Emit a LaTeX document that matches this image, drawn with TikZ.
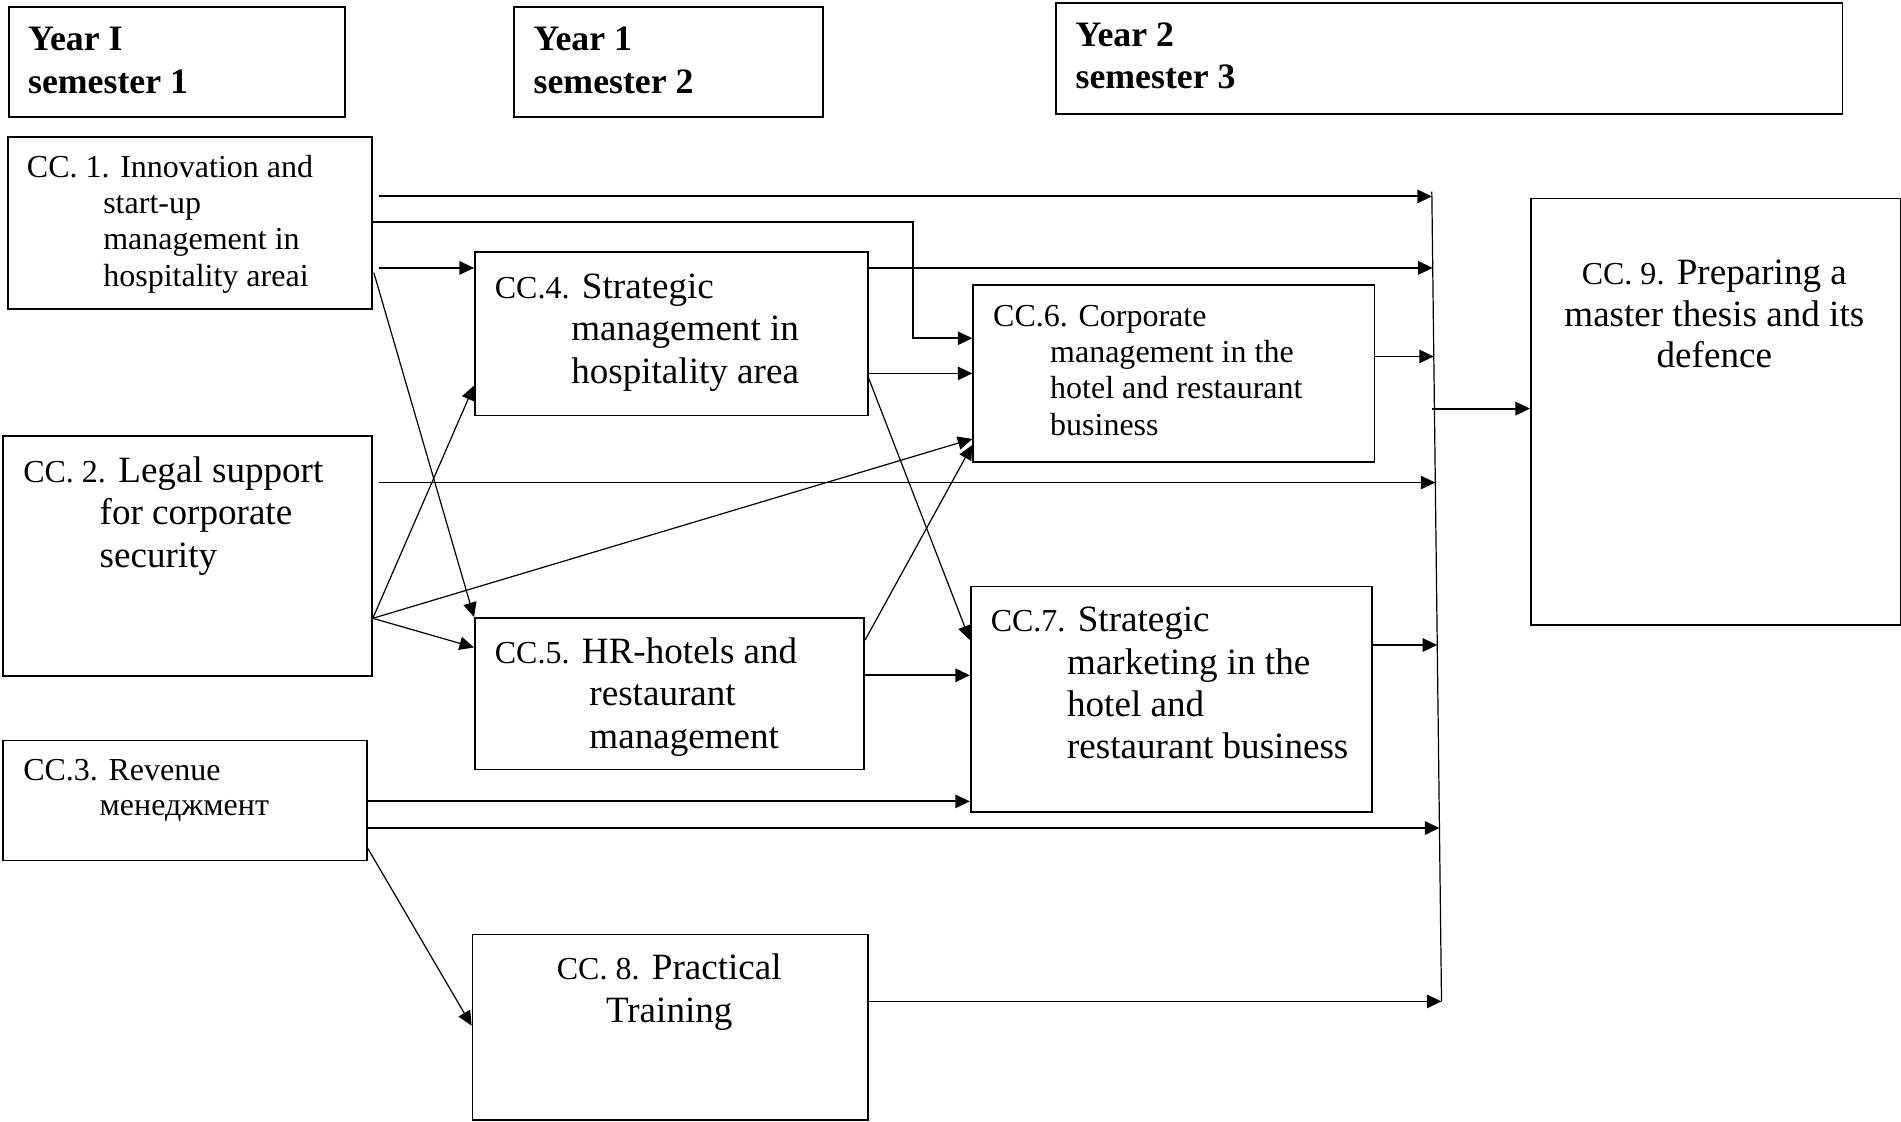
\documentclass[tikz,border=0pt]{standalone}
\usepackage{fontspec}
\setmainfont{Liberation Serif}
\usetikzlibrary{arrows.meta,calc}
\newcommand\smcc{\fontsize{26.4}{30}\selectfont}
\begin{document}
\begin{tikzpicture}[x=1pt,y=-1pt,
  box/.style={draw, line width=1.5pt, inner sep=0pt, anchor=north west},
  sm/.style={inner sep=0pt, font=\fontsize{26.4}{30}\selectfont},
  lg/.style={inner sep=0pt, font=\fontsize{30.6}{35}\selectfont},
  hd/.style={inner sep=0pt, font=\fontsize{29.5}{35}\selectfont\bfseries},
  arr/.style={draw, line width=1.5pt, -{Triangle[length=12pt,width=11pt]}},
  darr/.style={draw, line width=1pt, -{Triangle[length=12pt,width=11pt]}}]
\useasboundingbox (0,0) rectangle (1568,925);
\fill[white] (0,0) rectangle (1568,925);
% header boxes
\node[box, minimum width=277pt, minimum height=91pt] (h1) at (7,5) {};
\node[box, minimum width=255pt, minimum height=91pt] (h2) at (423,5) {};
\node[box, minimum width=649pt, minimum height=91pt] (h3) at (870,2) {};
\node[hd, anchor=base west] (h1a) at (23,42) {Year I};
\node[hd, anchor=base west] (h1b) at (23,77) {semester 1};
\node[hd, anchor=base west] (h2a) at (440,42) {Year 1};
\node[hd, anchor=base west] (h2b) at (440,77) {semester 2};
\node[hd, anchor=base west] (h3a) at (887,38) {Year 2};
\node[hd, anchor=base west] (h3b) at (887,73) {semester 3};
% course boxes
\node[box, minimum width=300pt, minimum height=142pt] (cc1) at (6,112) {};
\node[box, minimum width=304pt, minimum height=198pt] (cc2) at (2,359) {};
\node[box, minimum width=300pt, minimum height=99pt] (cc3) at (2,610) {};
\node[box, minimum width=324pt, minimum height=135pt] (cc4) at (391,207) {};
\node[box, minimum width=321pt, minimum height=125pt] (cc5) at (391,509) {};
\node[box, minimum width=331pt, minimum height=146pt] (cc6) at (802,234) {};
\node[box, minimum width=331pt, minimum height=186pt] (cc7) at (800,483) {};
\node[box, minimum width=326pt, minimum height=153pt] (cc8) at (389,770) {};
\node[box, minimum width=305pt, minimum height=352pt] (cc9) at (1262,163) {};
% texts
\node[sm, anchor=base west] (t1a) at (22,146) {CC. 1. Innovation and};
\node[sm, anchor=base west] (t1b) at (85,176) {start-up};
\node[sm, anchor=base west] (t1c) at (85,206) {management in};
\node[sm, anchor=base west] (t1d) at (85,236) {hospitality areai};
\node[lg, anchor=base west] (t2a) at (19,398) {{\smcc CC. 2.} Legal support};
\node[lg, anchor=base west] (t2b) at (82,433) {for corporate};
\node[lg, anchor=base west] (t2c) at (82,468) {security};
\node[sm, anchor=base west] (t3a) at (19,644) {CC.3. Revenue};
\node[sm, anchor=base west] (t3b) at (82,673) {менеджмент};
\node[lg, anchor=base west] (t4a) at (408,246) {{\smcc CC.4.} Strategic};
\node[lg, anchor=base west] (t4b) at (471,281) {management in};
\node[lg, anchor=base west] (t4c) at (471,316) {hospitality area};
\node[lg, anchor=base west] (t5a) at (408,547) {{\smcc CC.5.} HR-hotels and};
\node[lg, anchor=base west] (t5b) at (486,582) {restaurant};
\node[lg, anchor=base west] (t5c) at (486,617) {management};
\node[sm, anchor=base west] (t6a) at (819,269) {CC.6. Corporate};
\node[sm, anchor=base west] (t6b) at (866,299) {management in the};
\node[sm, anchor=base west] (t6c) at (866,329) {hotel and restaurant};
\node[sm, anchor=base west] (t6d) at (866,359) {business};
\node[lg, anchor=base west] (t7a) at (817,521) {{\smcc CC.7.} Strategic};
\node[lg, anchor=base west] (t7b) at (880,556) {marketing in the};
\node[lg, anchor=base west] (t7c) at (880,591) {hotel and};
\node[lg, anchor=base west] (t7d) at (880,626) {restaurant business};
\node[lg, anchor=base] (t8a) at (552,808) {{\smcc CC. 8.} Practical};
\node[lg, anchor=base] (t8b) at (552,843) {Training};
\node[lg, anchor=base] (t9a) at (1414,235) {{\smcc CC. 9.} Preparing a};
\node[lg, anchor=base] (t9b) at (1414,269) {master thesis and its};
\node[lg, anchor=base] (t9c) at (1414,303) {defence};
% collecting line
\coordinate (vt) at (1181,158);
\coordinate (vb) at (1189,826);
\draw[line width=1pt] (vt) -- (vb);
\coordinate (l162) at ($(vt)!0.006!(vb)$);
\coordinate (l221) at ($(vt)!0.0943!(vb)$);
\coordinate (l294) at ($(vt)!0.2036!(vb)$);
\coordinate (l337) at ($(vt)!0.268!(vb)$);
\coordinate (l398) at ($(vt)!0.3593!(vb)$);
\coordinate (l532) at ($(vt)!0.5599!(vb)$);
\coordinate (l683) at ($(vt)!0.7859!(vb)$);
\coordinate (l826) at (vb);
\coordinate (bend) at (753,183);
% connectors
\draw[arr, shorten <=5pt] (cc1.east |- l162) -- (l162);
\draw[arr] (cc1.east |- bend) -- (bend) |- (cc6.west |- 0,279);
\draw[arr, shorten <=5pt] (cc1.east |- 0,221) -- (cc4.west |- 0,221);
\draw[arr] (cc4.east |- l221) -- (l221);
\draw[darr, shorten <=3pt] (cc1.east |- 0,222) -- (cc5.north west);
\draw[darr] (cc2.east |- 0,510) -- (cc4.west |- 0,318);
\draw[darr] (cc2.east |- 0,510) -- (cc6.west |- 0,362);
\draw[darr] (cc2.east |- 0,510) -- (cc5.west |- 0,534);
\draw[arr, shorten <=5pt] (cc2.east |- l398) -- (l398);
\draw[arr] (cc4.east |- 0,308) -- (cc6.west |- 0,308);
\draw[darr] (cc4.east |- 0,312) -- (cc7.west |- 0,528);
\draw[darr] (cc5.east |- 0,528) -- (cc6.west |- 0,367);
\draw[arr] (cc5.east |- 0,557) -- (cc7.west |- 0,557);
\draw[arr] (cc6.east |- l294) -- (l294);
\draw[arr] (cc7.east |- l532) -- (l532);
\draw[arr] (cc3.east |- 0,661) -- (cc7.west |- 0,661);
\draw[arr] (cc3.east |- l683) -- (l683);
\draw[darr] (cc3.east |- 0,700) -- (cc8.west |- 0,846);
\draw[arr] (cc8.east |- l826) -- (l826);
\draw[arr] ($(l337)+(-2,0)$) -- (cc9.west |- l337);
\end{tikzpicture}
\end{document}
